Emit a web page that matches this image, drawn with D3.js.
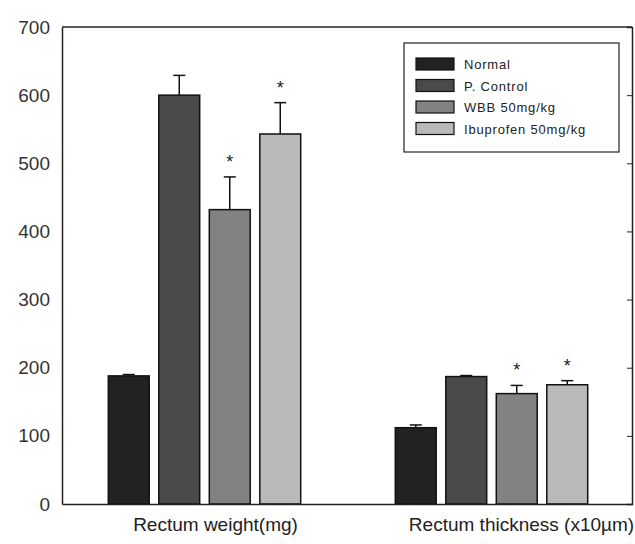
<!DOCTYPE html>
<html lang="en">
<head>
<meta charset="utf-8">
<script src="https://cdn.jsdelivr.net/npm/d3@7"></script>
<style>
  body { margin: 0; background: #fff; }
  text { font-family: "Liberation Sans", Arial, sans-serif; }
</style>
</head>
<body>
<div id="chart"></div>
<script>
// measures on the x axis
var categories = ["Rectum weight(mg)", "Rectum thickness (x10\u00b5m)"];
// treatment groups
var groups = ["Normal", "P. Control", "WBB 50mg/kg", "Ibuprofen 50mg/kg"];
// mean values per category, one array per group
var normal   = [188, 112];
var pControl = [600, 187];
var wbb      = [432, 162];
var ibu      = [543, 175];
// upper error (SE) per category
var normalErr   = [2, 4];
var pControlErr = [29, 1.5];
var wbbErr      = [48, 12];
var ibuErr      = [46, 6];
// significance marks
var starred = [[false, false], [false, false], [true, true], [true, true]];
var yTicks = [0, 100, 200, 300, 400, 500, 600, 700];
var colors = ["#222222", "#4a4a4a", "#828282", "#b9b9b9"];

var values = [normal, pControl, wbb, ibu];
var errors = [normalErr, pControlErr, wbbErr, ibuErr];

var width = 635, height = 544;
var margin = {top: 27, right: 3, bottom: 40, left: 62};
var w = width - margin.left - margin.right;
var h = height - margin.top - margin.bottom;

var svg = d3.select("#chart").append("svg")
    .attr("width", width)
    .attr("height", height);
var g = svg.append("g")
    .attr("transform", "translate(" + margin.left + "," + margin.top + ")");

var x0 = d3.scaleBand().domain(categories).range([0, w]);
var x1 = d3.scaleBand().domain(groups).range([0, 202]).paddingInner(0.19).paddingOuter(0.095);
var y = d3.scaleLinear().domain([0, 700]).range([h, 0]);

// rows of data built from the arrays
var rows = [];
categories.forEach(function(c, ci) {
    groups.forEach(function(s, si) {
        rows.push({cat: c, ci: ci, grp: s, gi: si, v: values[si][ci], e: errors[si][ci], star: starred[si][ci]});
    });
});

function barX(d) {
    return x0(d.cat) + (x0.bandwidth() - 202) / 2 + x1(d.grp) + (d.ci === 1 ? 2 : 0);
}

// error bars (drawn first, bar covers the lower part)
var eb = g.append("g").selectAll("g").data(rows).enter().append("g");
eb.append("line")
    .attr("x1", function(d) { return barX(d) + x1.bandwidth() / 2; })
    .attr("x2", function(d) { return barX(d) + x1.bandwidth() / 2; })
    .attr("y1", function(d) { return y(d.v); })
    .attr("y2", function(d) { return y(d.v + d.e); })
    .attr("stroke", "#111").attr("stroke-width", 1.5);
eb.append("line")
    .attr("x1", function(d) { return barX(d) + x1.bandwidth() / 2 - 6; })
    .attr("x2", function(d) { return barX(d) + x1.bandwidth() / 2 + 6; })
    .attr("y1", function(d) { return y(d.v + d.e); })
    .attr("y2", function(d) { return y(d.v + d.e); })
    .attr("stroke", "#111").attr("stroke-width", 1.5);

g.append("g").selectAll("rect").data(rows).enter().append("rect")
    .attr("x", barX)
    .attr("y", function(d) { return y(d.v); })
    .attr("width", x1.bandwidth())
    .attr("height", function(d) { return h - y(d.v); })
    .attr("fill", function(d) { return colors[d.gi]; })
    .attr("stroke", "#111")
    .attr("stroke-width", 1.5);

g.append("g").selectAll("text").data(rows.filter(function(d) { return d.star; }))
    .enter().append("text")
    .attr("x", function(d) { return barX(d) + x1.bandwidth() / 2; })
    .attr("y", function(d) { return y(d.v + d.e) - 9; })
    .attr("text-anchor", "middle")
    .style("font-size", "18px")
    .attr("fill", "#222")
    .text("*");

// frame
g.append("line").attr("x1", 0).attr("x2", w).attr("y1", 0).attr("y2", 0)
    .attr("stroke", "#222").attr("stroke-width", 1.5);

var yAxis = d3.axisLeft(y).tickValues(yTicks).tickSize(0).tickPadding(12);
var ya = g.append("g").call(yAxis);
ya.select(".domain").attr("stroke", "#222").attr("stroke-width", 1.5);
ya.selectAll("text").style("font-size", "19px").attr("fill", "#333");

var yRight = d3.axisLeft(y).tickValues(yTicks).tickSize(5).tickFormat("");
var yr = g.append("g").attr("transform", "translate(" + w + ",0)").call(yRight);
yr.select(".domain").attr("stroke", "#222").attr("stroke-width", 1.5);
yr.selectAll(".tick line").attr("stroke", "#222");

var xAxis = d3.axisBottom(x0).tickSize(0).tickPadding(14);
var xa = g.append("g").attr("transform", "translate(0," + h + ")").call(xAxis);
xa.select(".domain").attr("stroke", "#222").attr("stroke-width", 1.5);
xa.selectAll("text").style("font-size", "19px").attr("fill", "#222")
    .attr("dx", function(d, i) { return i === 0 ? 11 : 32; });

// legend
var leg = svg.append("g").attr("transform", "translate(404,43)");
leg.append("rect").attr("width", 215).attr("height", 109)
    .attr("fill", "#fff").attr("stroke", "#222").attr("stroke-width", 1.2);
var li = leg.selectAll("g.item").data(groups).enter().append("g")
    .attr("class", "item")
    .attr("transform", function(d, i) { return "translate(12," + (15 + i * 21.5) + ")"; });
li.append("rect").attr("width", 38).attr("height", 12)
    .attr("fill", function(d, i) { return colors[i]; })
    .attr("stroke", "#111").attr("stroke-width", 1.2);
li.append("text").attr("x", 48).attr("y", 11)
    .style("font-size", "13px").style("letter-spacing", "0.8px").attr("fill", "#222")
    .text(function(d) { return d; });
</script>
</body>
</html>
